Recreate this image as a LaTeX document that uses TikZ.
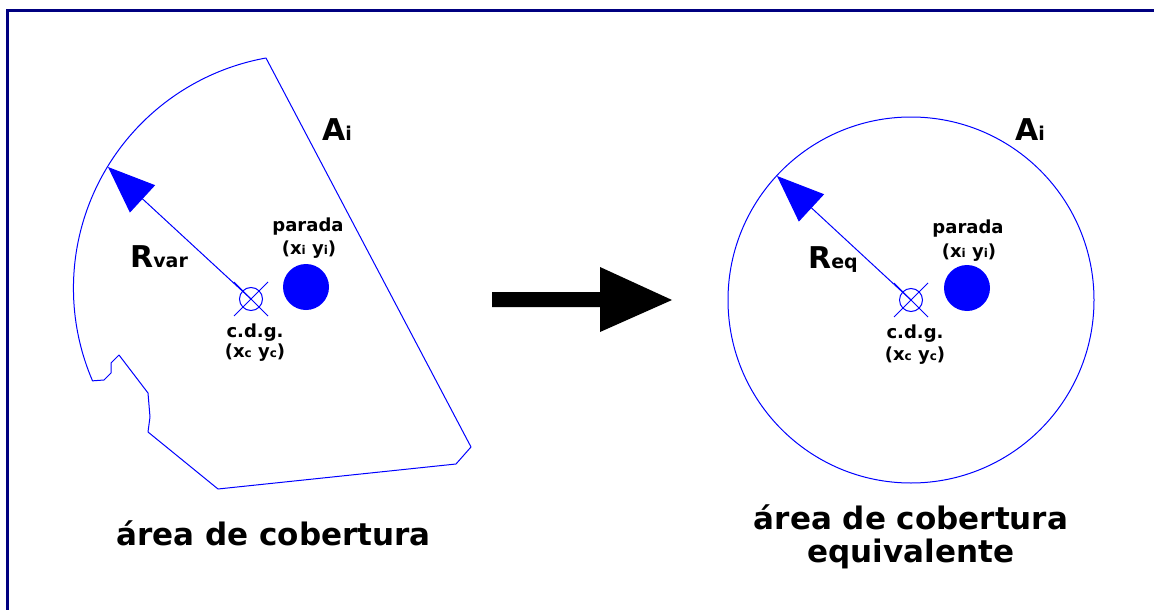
\documentclass[tikz,border=0pt]{standalone}
\usepackage{fontspec}
\setmainfont{DejaVu Sans}
\usetikzlibrary{arrows.meta}
\definecolor{navy}{RGB}{0,0,128}
\definecolor{pureblue}{RGB}{0,0,255}
\newcommand{\subsm}[1]{{\fontsize{12}{14}\selectfont #1}}
\newcommand{\subbig}[1]{{\fontsize{19}{21}\selectfont #1}}
\begin{document}
\begin{tikzpicture}[x=1pt,y=-1pt,
  outline/.style={draw=pureblue, line width=1pt, line join=round},
  stopdot/.style={circle, fill=pureblue, minimum size=46pt, inner sep=0pt},
  cdgmark/.style={circle, draw=pureblue, line width=1pt, minimum size=23pt, inner sep=0pt},
  radiusarrow/.style={draw=pureblue, line width=1pt, -{Triangle[length=47pt,width=37pt]}},
  bigsym/.style={font=\bfseries\fontsize{30}{32}\selectfont, inner sep=0pt, anchor=base west},
  lbl/.style={font=\bfseries\fontsize{18}{20}\selectfont, inner sep=0pt, anchor=base},
  title/.style={font=\bfseries\fontsize{31}{33}\selectfont, inner sep=0pt, anchor=base, align=center},
  bigarrow/.style={fill=black}
]
\useasboundingbox (0,0) rectangle (1154,610);
\fill[white] (0,0) rectangle (1154,610);
% frame
\draw[navy, line width=3pt, line join=miter] (7.5,620) -- (7.5,10.5) -- (1165,10.5);

% ---------- left: real coverage area ----------
\node[stopdot] (pL) at (306,287) {};
\node[cdgmark] (cL) at (251,299) {};
\coordinate (tL) at (108,167);
\draw[outline] (266,58) arc[start angle=259.8, end angle=156.7, radius=234]
  -- (104,380) -- (111,373) -- (111,363) -- (119,355) -- (148,393) -- (150,417)
  -- (148,432) -- (218,489) -- (456,464) -- (471,447) -- cycle;
\draw[outline] ([shift={(-17,-17)}]cL.center) -- ([shift={(17,17)}]cL.center);
\draw[outline] ([shift={(-17,17)}]cL.center) -- ([shift={(17,-17)}]cL.center);
\draw[radiusarrow] (cL.center) -- (tL);
\node[bigsym] (aL) at (322,140) {A\subbig{i}};
\node[bigsym] (rL) at (130,267) {R\subbig{var}};
\node[lbl] (parL) at (308,231) {parada};
\node[lbl] (xyiL) at (309,254) {(x\subsm{i} y\subsm{i})};
\node[lbl] (cdgL) at (255,337) {c.d.g.};
\node[lbl] (xycL) at (255,357) {(x\subsm{c} y\subsm{c})};
\node[title] (tL1) at (273.5,545) {área de cobertura};

% ---------- big arrow ----------
\fill[bigarrow] (492,292) -- (600,292) -- (600,267) -- (672,300) -- (600,332) -- (600,307) -- (492,307) -- cycle;

% ---------- right: equivalent area ----------
\node[stopdot] (pR) at (967,288) {};
\node[cdgmark] (cR) at (911,300) {};
\coordinate (tR) at (777,176);
\draw[outline] (cR.center) circle[radius=183];
\draw[outline] ([shift={(-17,-17)}]cR.center) -- ([shift={(17,17)}]cR.center);
\draw[outline] ([shift={(-17,17)}]cR.center) -- ([shift={(17,-17)}]cR.center);
\draw[radiusarrow] (cR.center) -- (tR);
\node[bigsym] (aR) at (1015,140) {A\subbig{i}};
\node[bigsym] (rR) at (808,268) {R\subbig{eq}};
\node[lbl] (parR) at (968,233) {parada};
\node[lbl] (xyiR) at (969,257) {(x\subsm{i} y\subsm{i})};
\node[lbl] (cdgR) at (915,338) {c.d.g.};
\node[lbl] (xycR) at (915,360) {(x\subsm{c} y\subsm{c})};
\node[title] (tR1) at (911,562) {área de cobertura\\equivalente};
\end{tikzpicture}
\end{document}
